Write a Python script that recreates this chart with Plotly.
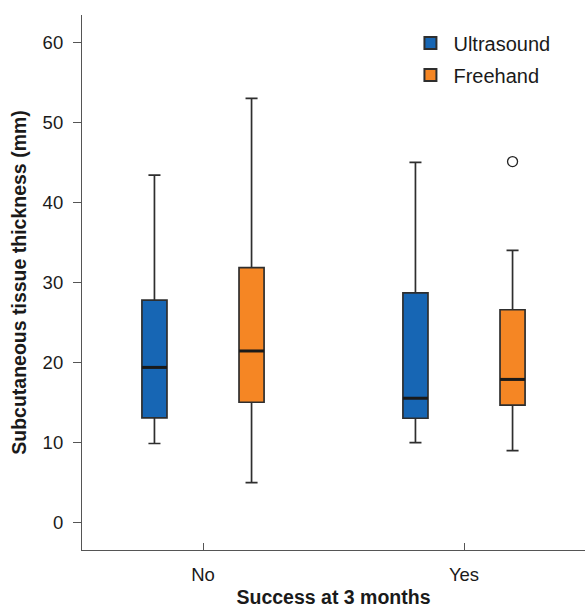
import plotly.graph_objects as go

categories = ["No", "Yes"]
groups = ["Ultrasound", "Freehand"]
colors = {"Ultrasound": "#1766b4", "Freehand": "#f58624"}

lower = {"Ultrasound": [9.9, 10.0], "Freehand": [5.0, 9.0]}
q1 = {"Ultrasound": [13.1, 13.05], "Freehand": [15.05, 14.7]}
median = {"Ultrasound": [19.4, 15.55], "Freehand": [21.45, 17.9]}
q3 = {"Ultrasound": [27.8, 28.7], "Freehand": [31.85, 26.6]}
upper = {"Ultrasound": [43.4, 45.0], "Freehand": [53.0, 34.0]}
outliers = {"Freehand": {"Yes": [45.1]}}

OFFSET = 0.186
BOX_W = 0.096
FONT = "Liberation Sans, Arial, Helvetica, sans-serif"

fig = go.Figure()
for gi, g in enumerate(groups):
    sign = -1 if gi == 0 else 1
    xs = [i + sign * OFFSET for i in range(len(categories))]
    fig.add_trace(go.Box(
        name=g, x=xs, legendgroup=g,
        lowerfence=lower[g], q1=q1[g], median=median[g], q3=q3[g], upperfence=upper[g],
        width=BOX_W, whiskerwidth=0.48,
        fillcolor=colors[g],
        line=dict(color="#2e2e2e", width=1.7),
        boxpoints=False,
    ))
    # thicker median bars
    mx, my = [], []
    for x, m in zip(xs, median[g]):
        mx += [x - BOX_W / 2, x + BOX_W / 2, None]
        my += [m, m, None]
    fig.add_trace(go.Scatter(x=mx, y=my, mode="lines", line=dict(color="#1a1a1a", width=3),
                             showlegend=False, hoverinfo="skip", legendgroup=g))
    for cat, vals in outliers.get(g, {}).items():
        ci = categories.index(cat)
        fig.add_trace(go.Scatter(
            x=[ci + sign * OFFSET] * len(vals), y=vals, mode="markers",
            marker=dict(symbol="circle-open", size=10, color="#222222", line=dict(width=1.3)),
            showlegend=False, hoverinfo="y", legendgroup=g,
        ))

fig.update_layout(
    width=585, height=608,
    margin=dict(l=82, r=0, t=15, b=58),
    paper_bgcolor="white", plot_bgcolor="white",
    font=dict(family=FONT, size=19, color="#1a1a1a"),
    showlegend=True,
    legend=dict(x=0.647, y=0.984, xanchor="left", yanchor="top",
                font=dict(size=20), bgcolor="rgba(0,0,0,0)", tracegroupgap=3,
                itemsizing="constant", itemwidth=36),
    xaxis=dict(
        range=[-0.4636, 1.4636],
        tickmode="array", tickvals=list(range(len(categories))), ticktext=categories,
        ticks="inside", ticklen=7, tickcolor="#555555",
        showline=True, linecolor="#555555", linewidth=1.2,
        showgrid=False, zeroline=False,
        ticklabelstandoff=8,
        title=dict(text="<b>Success at 3 months</b>", font=dict(size=19.5), standoff=7),
        tickfont=dict(size=18.5),
    ),
    yaxis=dict(
        range=[-3.4, 63.4],
        tickvals=[0, 10, 20, 30, 40, 50, 60],
        ticks="outside", ticklen=8, tickcolor="#555555",
        showline=True, linecolor="#555555", linewidth=1.2,
        showgrid=False, zeroline=False,
        ticklabelstandoff=6,
        title=dict(text="<b>Subcutaneous tissue thickness (mm)</b>", font=dict(size=19.5), standoff=10),
        tickfont=dict(size=18.5),
    ),
)

fig.write_html("out.html", config={"displayModeBar": False},
               post_script="document.body.style.margin='0';")
